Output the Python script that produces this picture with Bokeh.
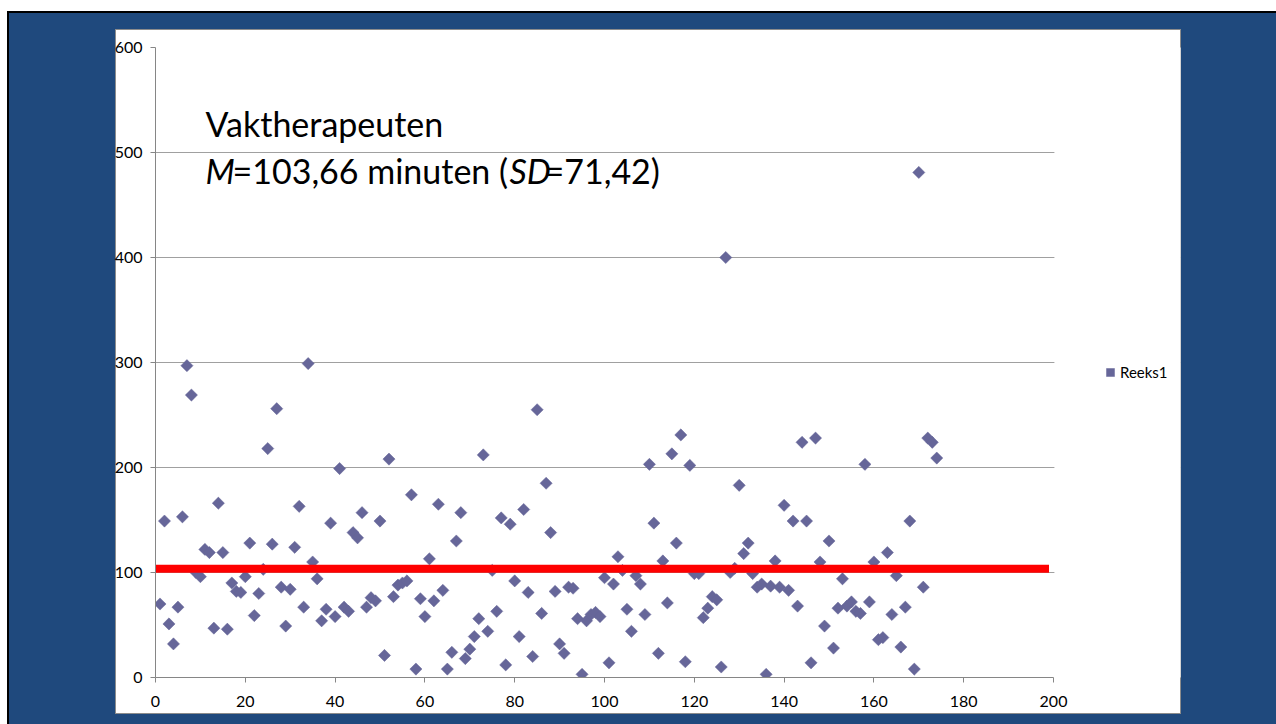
from bokeh.plotting import figure
from bokeh.models import (Range1d, FixedTicker, Label, Legend, LegendItem,
                          ColumnDataSource, BoxAnnotation)
from bokeh.embed import file_html
from bokeh.resources import INLINE

# ---------------- data ----------------
case_index = list(range(1, 175))
minutes = [
    70, 149, 51, 32, 67, 153, 297, 269, 100, 96,
    122, 119, 47, 166, 119, 46, 90, 82, 81, 96,
    128, 59, 80, 103, 218, 127, 256, 86, 49, 84,
    124, 163, 67, 299, 110, 94, 54, 65, 147, 58,
    199, 67, 63, 138, 133, 157, 67, 76, 73, 149,
    21, 208, 77, 88, 90, 92, 174, 8, 75, 58,
    113, 73, 165, 83, 8, 24, 130, 157, 18, 27,
    39, 56, 212, 44, 102, 63, 152, 12, 146, 92,
    39, 160, 81, 20, 255, 61, 185, 138, 82, 32,
    23, 86, 85, 56, 3, 54, 60, 62, 58, 95,
    14, 89, 115, 102, 65, 44, 97, 89, 60, 203,
    147, 23, 111, 71, 213, 128, 231, 15, 202, 99,
    99, 57, 66, 77, 74, 10, 400, 100, 104, 183,
    118, 128, 99, 86, 89, 3, 87, 111, 86, 164,
    83, 149, 68, 224, 149, 14, 228, 110, 49, 130,
    28, 66, 94, 68, 72, 63, 61, 203, 72, 110,
    36, 38, 119, 60, 97, 29, 67, 149, 8, 481,
    86, 228, 224, 209,
]
mean_minutes = 103.66
mean_line_x = [0, 199]
x_axis_range = (0, 200)
y_axis_range = (0, 600)
x_ticks = list(range(0, 201, 20))
y_ticks = list(range(0, 601, 100))
series_name = "Reeks1"
title_line1 = "Vaktherapeuten"
title_line2_parts = ["M", "=103,66 minuten (", "SD", "=71,42)"]

# ---------------- layout / style ----------------
FONT = "Lato"
SLIDE_BLUE = "#1F497D"
MARKER = "#666699"
GRID = "#A0A0A0"
AXIS = "#868686"

# plot frame runs from the axis origin (x=155 px) to the inner right edge of
# the white chart area (x=1180 px); the x axis itself covers 155..1053 px
AXIS_PX = 1053 - 155
FRAME_PX = 1180 - 155
x_view_end = x_axis_range[1] * FRAME_PX / AXIS_PX
PX_PER_X = AXIS_PX / x_axis_range[1]


def x_at(px):
    """data x for a horizontal pixel position (for the text box)"""
    return (px - 155) / PX_PER_X


p = figure(width=1276, height=724,
           x_range=Range1d(0, x_view_end), y_range=Range1d(*y_axis_range),
           output_backend="svg", toolbar_location=None,
           min_border_left=155, min_border_right=1276 - 1180,
           min_border_top=47, min_border_bottom=47)
# slide look: black edge, dark-blue slide, white chart area with grey rim
p.border_fill_alpha = 0
p.styles = {
    "background": (
        "linear-gradient(#FFFFFF,#FFFFFF) 116px 30px / 1064px 683px no-repeat, "
        "linear-gradient(#8C8C8C,#8C8C8C) 115px 29px / 1066px 685px no-repeat, "
        f"linear-gradient({SLIDE_BLUE},{SLIDE_BLUE}) 9px 13px / 1267px 711px no-repeat, "
        "linear-gradient(#000000,#000000) 7px 11px / 1269px 713px no-repeat, "
        "#FFFFFF"
    )
}
p.background_fill_color = "white"
p.outline_line_color = None

# axes
for ax in (p.xaxis[0], p.yaxis[0]):
    ax.axis_line_color = AXIS
    ax.major_tick_line_color = AXIS
    ax.minor_tick_line_color = None
    ax.major_tick_in = 0
    ax.major_tick_out = 5
    ax.major_label_text_font = FONT
    ax.major_label_text_font_size = "16px"
    ax.major_label_text_color = "black"
p.xaxis.ticker = FixedTicker(ticks=x_ticks)
p.xaxis.bounds = x_axis_range
p.yaxis.ticker = FixedTicker(ticks=y_ticks)
p.xaxis.major_label_standoff = 13
p.yaxis.major_label_standoff = 8

p.xgrid.visible = False
p.ygrid.grid_line_color = GRID
p.ygrid.ticker = FixedTicker(ticks=y_ticks)
# the horizontal gridlines stop at the end of the x axis (white area beyond)
p.add_layout(BoxAnnotation(left=x_axis_range[1] + 0.2, fill_color="white",
                           fill_alpha=1, line_color=None, level="underlay"))

src = ColumnDataSource(dict(x=case_index, y=minutes))
r = p.scatter("x", "y", source=src, marker="square", angle=0.785398,
              size=8.6, fill_color=MARKER, line_color=MARKER, line_width=0.5)

p.line(mean_line_x, [mean_minutes, mean_minutes], line_color="#FF0000", line_width=8)

legend = Legend(items=[LegendItem(label=series_name, renderers=[r])],
                location=(1100 - 155, 295), glyph_width=20, glyph_height=20,
                label_standoff=0, padding=0, margin=0, border_line_color=None,
                background_fill_alpha=0, label_text_font=FONT,
                label_text_font_size="15px", label_text_color="black")
p.add_layout(legend)

# title text box
common = dict(text_font=FONT, text_font_size="34px", text_color="black",
              text_baseline="alphabetic")
p.add_layout(Label(x=x_at(205), y=528.0, text=title_line1, **common))
p.add_layout(Label(x=x_at(205), y=482.5, text=title_line2_parts[0],
                   text_font_style="italic", **common))
p.add_layout(Label(x=x_at(232), y=482.5, text=title_line2_parts[1], **common))
p.add_layout(Label(x=x_at(509), y=482.5, text=title_line2_parts[2],
                   text_font_style="italic", **common))
p.add_layout(Label(x=x_at(544), y=482.5, text=title_line2_parts[3], **common))

open("out.html", "w").write(file_html(p, INLINE))
